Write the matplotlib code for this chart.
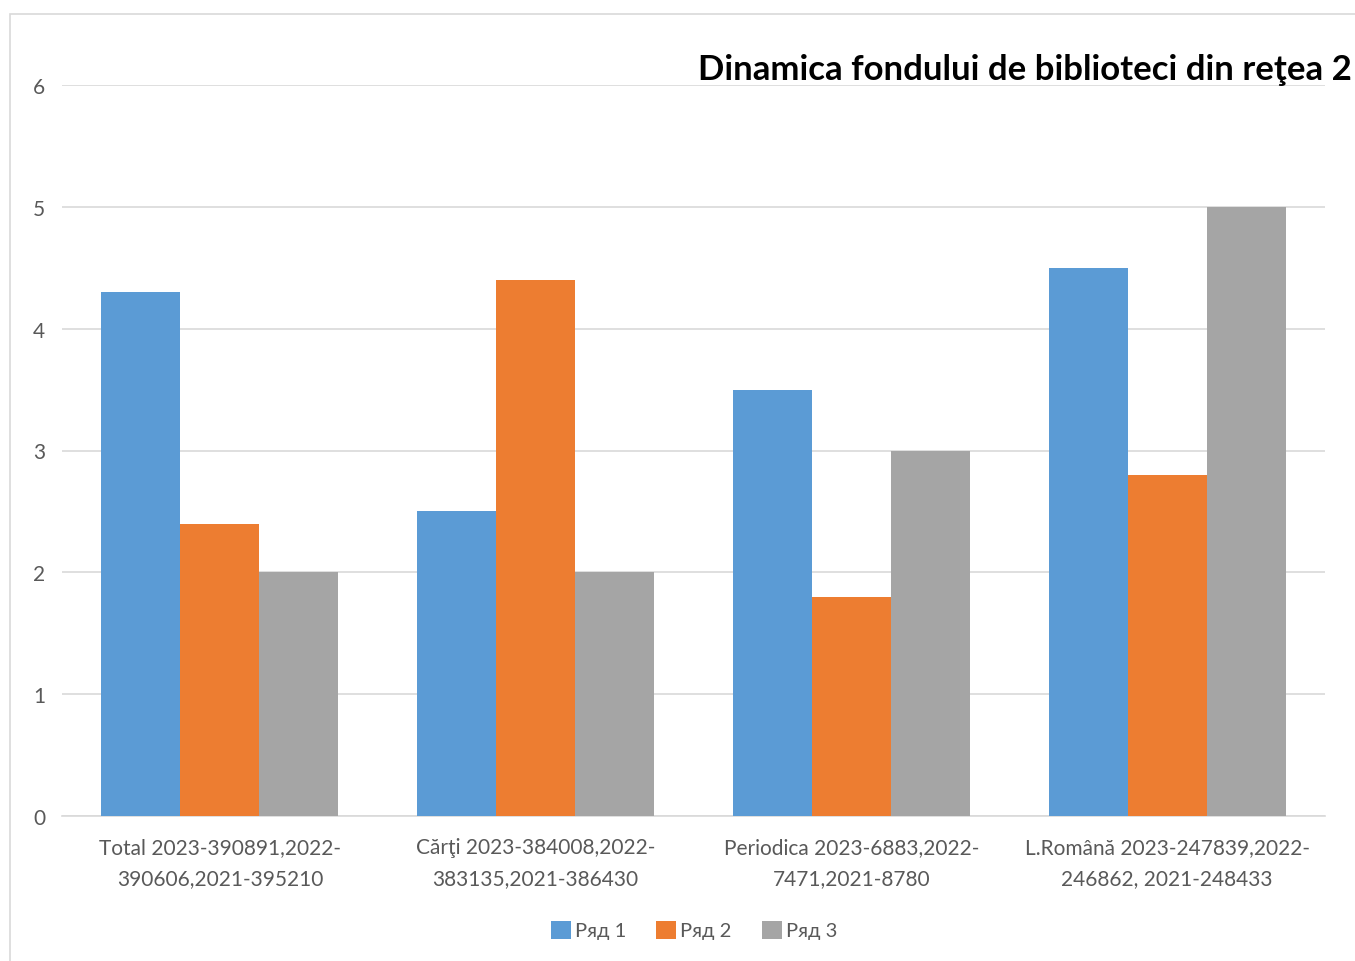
import matplotlib
matplotlib.use("Agg")
import matplotlib.pyplot as plt
from matplotlib.patches import Rectangle
import numpy as np

categories = ["Total 2023-390891,2022-\n390606,2021-395210",
              "Cărţi 2023-384008,2022-\n383135,2021-386430",
              "Periodica 2023-6883,2022-\n7471,2021-8780",
              "L.Română 2023-247839,2022-\n246862, 2021-248433"]
series_names = ["Ряд 1", "Ряд 2", "Ряд 3"]
series1 = [4.3, 2.5, 3.5, 4.5]
series2 = [2.4, 4.4, 1.8, 2.8]
series3 = [2.0, 2.0, 3.0, 5.0]
colors = ["#5B9BD5", "#ED7D31", "#A5A5A5"]
title = "Dinamica fondului de biblioteci din reţea 2"

plt.rcParams['font.family'] = ['Lato', 'DejaVu Sans']

W, H = 1355, 962
fig = plt.figure(figsize=(W/100, H/100), dpi=100)

# outer chart border
fig.patches.append(Rectangle((10/W, -0.05), 1.2, (H-15)/H + 0.05, transform=fig.transFigure,
                             fill=False, edgecolor="#d9d9d9", linewidth=1.2))

ax = fig.add_axes([62/W, (H-817)/H, (1325-62)/W, (817-86)/H])
x = np.arange(len(categories))
bw = 0.25
for i, (vals, c, n) in enumerate(zip([series1, series2, series3], colors, series_names)):
    ax.bar(x + (i-1)*bw, vals, bw, color=c, label=n, zorder=3)

ax.set_xlim(-0.5, len(categories)-0.5)
ax.set_ylim(0, 6)
ax.set_yticks(range(0, 7))
ax.yaxis.grid(True, color="#d9d9d9", linewidth=1.2, zorder=0)
for s in ["top", "right", "left"]:
    ax.spines[s].set_visible(False)
ax.spines["bottom"].set_color("#d9d9d9")
ax.spines["bottom"].set_linewidth(1.2)
ax.tick_params(axis="both", length=0, colors="#595959", labelsize=15)
ax.tick_params(axis="y", pad=12)
ax.tick_params(axis="x", pad=15)
ax.set_xticks(x)
ax.set_xticklabels(categories, linespacing=1.68)

fig.text(698/W, (H-70)/H, title, fontsize=25, fontweight="bold", color="black",
         ha="left", va="center")

leg = fig.legend(loc="center", bbox_to_anchor=(694/W, (H-931)/H), ncol=3, frameon=False,
                 fontsize=14.5, handlelength=1.0, handleheight=1.0, handletextpad=0.2,
                 columnspacing=1.5)
for t in leg.get_texts():
    t.set_color("#595959")

fig.savefig("out.png", dpi=100)
